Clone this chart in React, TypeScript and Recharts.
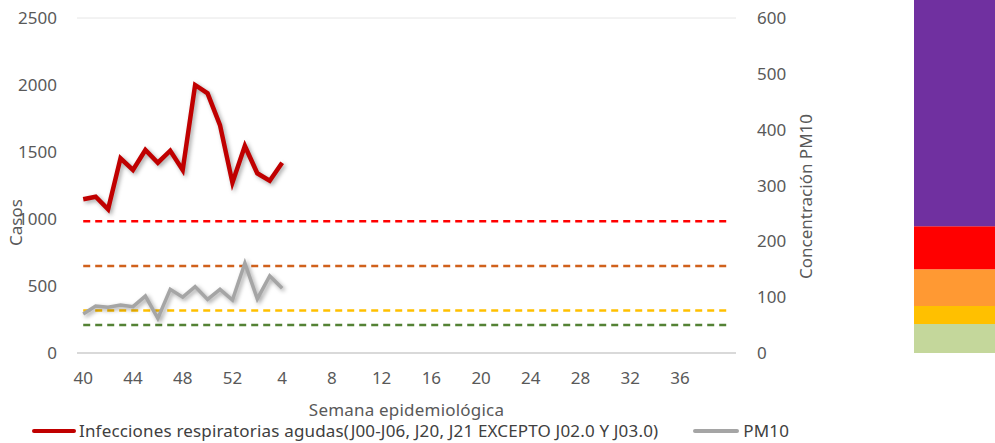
import React from 'react';
import {
  ComposedChart,
  BarChart,
  Bar,
  Line,
  XAxis,
  YAxis,
  CartesianGrid,
  Label
} from 'recharts';

// semanas epidemiológicas 40-52 y 1-39, más una categoría vacía al final
const weeks: string[] = [
  '40', '41', '42', '43', '44', '45', '46', '47', '48', '49', '50', '51', '52',
  '1', '2', '3', '4', '5', '6', '7', '8', '9', '10', '11', '12', '13', '14', '15',
  '16', '17', '18', '19', '20', '21', '22', '23', '24', '25', '26', '27', '28',
  '29', '30', '31', '32', '33', '34', '35', '36', '37', '38', '39', ''
];

const ira: number[] = [
  1147, 1166, 1072, 1453, 1366, 1515, 1420, 1510, 1366, 2000, 1938, 1701, 1271,
  1545, 1341, 1286, 1420
];

const pm10: number[] = [
  70, 84, 82, 86, 83, 102, 62, 114, 100, 119, 96, 114, 95, 161, 97, 138, 116
];

// umbrales PM10 (eje derecho)
const limGreen = 50;
const limYellow = 76;
const limOrange = 156;
const limRed = 236;

// barra de colores del índice (tramos apilados, eje PM10)
const bandGreen = 52;
const bandYellow = 32;
const bandOrange = 66;
const bandRed = 77;
const bandPurple = 405;

const font = 'Noto Sans';
const tickStyle = { fill: '#595959', fontSize: 17, fontFamily: font };

const data = weeks.map((w, i) => ({
  week: w,
  ira: i < ira.length ? ira[i] : null,
  pm10: i < pm10.length ? pm10[i] : null,
  limGreen,
  limYellow,
  limOrange,
  limRed
}));

const bandData = [
  { name: 'ica', green: bandGreen, yellow: bandYellow, orange: bandOrange, red: bandRed, purple: bandPurple }
];

export default function App() {
  return (
    <div style={{ position: 'absolute', left: 0, top: 0, width: 995, height: 443, background: '#fff', overflow: 'hidden' }}>
      <style>{`.shadowed path { filter: drop-shadow(2px 2px 2px rgba(0,0,0,0.35)); }`}</style>
      <ComposedChart
        width={995}
        height={443}
        data={data}
        margin={{ top: 18, right: 179, bottom: 26, left: 0 }}
      >
        <CartesianGrid vertical={false} stroke="#E6E6E6" />
        <XAxis
          dataKey="week"
          scale="band"
          interval={3}
          tickLine={false}
          axisLine={{ stroke: '#D9D9D9', strokeWidth: 2 }}
          tick={tickStyle}
          tickMargin={13}
          height={64}
        >
          <Label
            value="Semana epidemiológica"
            position="insideBottom"
            offset={1}
            style={{ fill: '#595959', fontSize: 17, fontFamily: font, letterSpacing: 0.2 }}
          />
        </XAxis>
        <YAxis
          yAxisId="left"
          domain={[0, 2500]}
          ticks={[0, 500, 1000, 1500, 2000, 2500]}
          width={77}
          axisLine={false}
          tickLine={false}
          tick={tickStyle}
          tickMargin={14}
        >
          <Label
            value="Casos"
            angle={-90}
            position="insideLeft"
            offset={16}
            dy={37}
            style={{ fill: '#595959', fontSize: 17, fontFamily: font, textAnchor: 'middle' }}
          />
        </YAxis>
        <YAxis
          yAxisId="right"
          orientation="right"
          domain={[0, 600]}
          ticks={[0, 100, 200, 300, 400, 500, 600]}
          width={80}
          axisLine={false}
          tickLine={false}
          tick={{ ...tickStyle, textAnchor: 'start' }}
          tickMargin={15}
        >
          <Label
            value="Concentración PM10"
            angle={-90}
            position="insideRight"
            offset={0}
            dx={-10}
            dy={11}
            style={{ fill: '#595959', fontSize: 17, fontFamily: font, textAnchor: 'middle' }}
          />
        </YAxis>
        <Line yAxisId="right" dataKey="limRed" stroke="#FF0000" strokeWidth={2.5} strokeDasharray="7 5" dot={false} isAnimationActive={false} />
        <Line yAxisId="right" dataKey="limOrange" stroke="#D0611C" strokeWidth={2.5} strokeDasharray="7 5" dot={false} isAnimationActive={false} />
        <Line yAxisId="right" dataKey="limYellow" stroke="#FFC000" strokeWidth={2.5} strokeDasharray="7 5" dot={false} isAnimationActive={false} />
        <Line yAxisId="right" dataKey="limGreen" stroke="#548235" strokeWidth={2.5} strokeDasharray="7 5" dot={false} isAnimationActive={false} />
        <Line
          yAxisId="right"
          dataKey="pm10"
          name="PM10"
          className="shadowed"
          stroke="#A5A5A5"
          strokeWidth={3.5}
          dot={false}
          type="linear"
          isAnimationActive={false}
        />
        <Line
          yAxisId="left"
          dataKey="ira"
          name="Infecciones respiratorias agudas(J00-J06, J20, J21 EXCEPTO J02.0 Y J03.0)"
          className="shadowed"
          stroke="#C00000"
          strokeWidth={4.5}
          dot={false}
          type="linear"
          isAnimationActive={false}
        />
      </ComposedChart>
      <div
        style={{
          position: 'absolute',
          left: 32,
          top: 420,
          display: 'flex',
          alignItems: 'center',
          fontFamily: font,
          fontSize: 17,
          letterSpacing: 0.17,
          lineHeight: '22px',
          color: '#404040',
          whiteSpace: 'nowrap'
        }}
      >
        <span style={{ display: 'inline-block', width: 44, height: 4, borderRadius: 2, background: '#C00000', marginRight: 3 }} />
        <span style={{ marginRight: 35 }}>
          Infecciones respiratorias agudas(J00-J06, J20, J21 EXCEPTO J02.0 Y J03.0)
        </span>
        <span style={{ display: 'inline-block', width: 46, height: 4, borderRadius: 2, background: '#A5A5A5', marginRight: 4 }} />
        <span>PM10</span>
      </div>
      <div style={{ position: 'absolute', left: 914, top: 0 }}>
        <BarChart width={81} height={353} data={bandData} margin={{ top: 0, right: 0, bottom: 0, left: 0 }} barCategoryGap={0}>
          <XAxis dataKey="name" hide />
          <YAxis domain={[0, 632]} hide allowDataOverflow />
          <Bar dataKey="green" stackId="a" fill="#C4D79B" isAnimationActive={false} />
          <Bar dataKey="yellow" stackId="a" fill="#FFC000" isAnimationActive={false} />
          <Bar dataKey="orange" stackId="a" fill="#FF9933" isAnimationActive={false} />
          <Bar dataKey="red" stackId="a" fill="#FF0000" isAnimationActive={false} />
          <Bar dataKey="purple" stackId="a" fill="#7030A0" isAnimationActive={false} />
        </BarChart>
      </div>
    </div>
  );
}
